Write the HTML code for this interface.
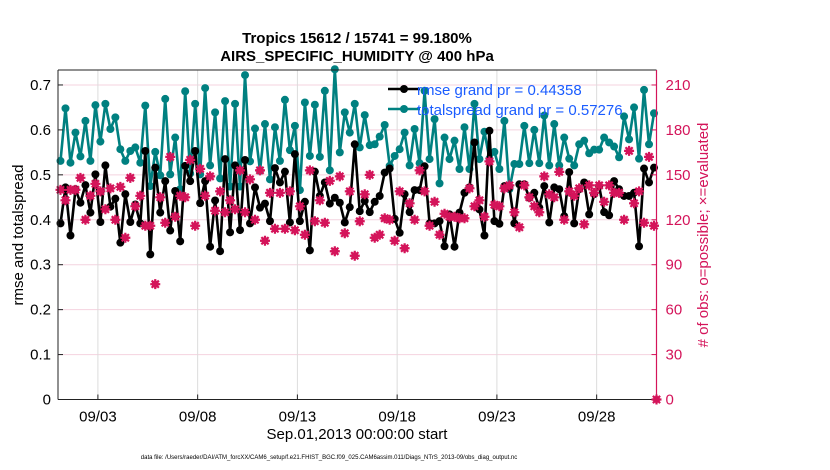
<!DOCTYPE html>
<html><head><meta charset="utf-8">
<style>
html,body{margin:0;padding:0;background:#fff;}
svg{display:block;font-family:"Liberation Sans",Arial,sans-serif;}
</style></head>
<body>
<svg id="chart" width="830" height="470" viewBox="0 0 830 470" xmlns="http://www.w3.org/2000/svg">
<rect x="0" y="0" width="830" height="470" fill="#fff"/>
<text x="357" y="43" font-size="15" font-weight="bold" text-anchor="middle">Tropics 15612 / 15741 = 99.180%</text>
<text x="357" y="61" font-size="15" font-weight="bold" text-anchor="middle">AIRS_SPECIFIC_HUMIDITY @ 400 hPa</text>
<g id="grid"></g>
<g id="marks"></g>
<g id="axes"></g>
<text transform="translate(23,235) rotate(-90)" font-size="15" text-anchor="middle">rmse and totalspread</text>
<text transform="translate(708,235) rotate(-90)" font-size="15" fill="#d4145a" text-anchor="middle"># of obs: o=possible; ×=evaluated</text>
<text x="357" y="439" font-size="15" text-anchor="middle">Sep.01,2013 00:00:00 start</text>
<text x="329" y="459" font-size="6" text-anchor="middle">data file: /Users/raeder/DAI/ATM_forcXX/CAM6_setup/f.e21.FHIST_BGC.f09_025.CAM6assim.011/Diags_NTrS_2013-09/obs_diag_output.nc</text>
<g id="legend"></g>
</svg>
<script>
const rmse = [0.392,0.472,0.365,0.468,0.438,0.477,0.416,0.501,0.395,0.521,0.429,0.447,0.349,0.457,0.395,0.434,0.392,0.553,0.323,0.516,
0.416,0.486,0.376,0.464,0.352,0.520,0.486,0.553,0.437,0.486,0.340,0.443,0.330,0.535,0.372,0.521,0.377,0.533,0.392,0.472,0.427,
0.436,0.397,0.515,0.483,0.507,0.394,0.546,0.397,0.440,0.332,0.507,0.453,0.483,0.436,0.449,0.438,0.394,0.428,0.568,
0.419,0.442,0.417,0.440,0.453,0.505,0.514,0.402,0.371,0.457,0.417,0.466,0.466,0.519,0.392,0.392,0.397,0.341,
0.412,0.340,0.416,0.460,0.472,0.572,0.423,0.365,0.598,0.397,0.391,0.475,0.472,0.392,0.479,0.479,0.449,0.460,0.427,0.475,0.394,0.472,0.468,0.408,0.506,0.392,0.468,0.483,0.412,0.457,0.475,0.417,0.410,0.486,0.468,0.453,0.453,0.460,0.341,0.514,0.483,0.516];
const spread = [0.531,0.648,0.527,0.594,0.541,0.620,0.531,0.655,0.574,0.658,0.602,0.628,0.557,0.531,0.553,0.561,0.527,0.654,0.475,0.551,
0.499,0.669,0.501,0.583,0.468,0.686,0.503,0.658,0.501,0.693,0.521,0.639,0.492,0.664,0.474,0.658,0.474,0.722,0.530,0.603,0.509,
0.613,0.490,0.606,0.531,0.667,0.555,0.609,0.466,0.661,0.542,0.656,0.540,0.687,0.510,0.735,0.550,0.639,0.594,0.658,
0.561,0.633,0.566,0.568,0.585,0.611,0.520,0.542,0.557,0.594,0.521,0.602,0.526,0.687,0.535,0.624,0.481,0.583,
0.535,0.576,0.513,0.606,0.513,0.658,0.535,0.596,0.536,0.551,0.513,0.620,0.468,0.524,0.524,0.609,0.526,0.600,0.526,0.632,0.521,0.613,0.521,0.583,0.536,0.521,0.568,0.576,0.548,0.556,0.556,0.583,0.572,0.563,0.539,0.630,0.579,0.650,0.536,0.689,0.568,0.637];
const nobs = [140,133,140,140,148,120,136,144,139,127,141,120,142,108,148,129,136,116,116,77,
135,118,162,122,136,135,160,116,154,136,149,126,139,125,133,127,153,125,147,120,153,
106,138,114,138,114,139,113,129,110,153,119,133,118,146,99,149,111,139,96,
119,137,150,108,110,121,120,106,139,101,131,120,153,139,116,132,110,124,
122,122,121,121,141,129,133,122,159,130,129,141,143,125,115,143,135,129,125,149,137,135,152,120,139,136,141,117,143,138,143,132,143,138,138,120,166,131,139,118,162,116];
const nobsFinal = 0;
const yTicks = [0,0.1,0.2,0.3,0.4,0.5,0.6,0.7];
const yTickLabels = ["0","0.1","0.2","0.3","0.4","0.5","0.6","0.7"];
const y2Ticks = [0,30,60,90,120,150,180,210];
const xTickDays = [2,7,12,17,22,27];
const xTickLabels = ["09/03","09/08","09/13","09/18","09/23","09/28"];
const rmseLabel = "rmse grand pr = 0.44358";
const spreadLabel = "totalspread grand pr = 0.57276";

const L=58, R=656.5, T=70, B=399.5, DAYS=30, YMAX=0.7333, Y2MAX=220;
const NS="http://www.w3.org/2000/svg";
const xs = d => L + d/DAYS*(R-L);
const ys = v => B - v/YMAX*(B-T);
const y2s = v => B - v/Y2MAX*(B-T);
const dayOf = i => (i*6+3)/24;
const RED="#d4145a", TEAL="#008080";
function mk(tag, attrs, parent){const e=document.createElementNS(NS,tag);for(const k in attrs)e.setAttribute(k,attrs[k]);parent.appendChild(e);return e;}
const grid=document.getElementById('grid'), marks=document.getElementById('marks'), axes=document.getElementById('axes'), legend=document.getElementById('legend');

yTicks.forEach((v,i)=>{ if(v>0){ const g=mk('line',{x1:L,x2:R,y1:ys(v),y2:ys(v),stroke:'#f4d3df','stroke-width':1},grid);
 }});
xTickDays.forEach(d=>{ const g=mk('line',{x1:xs(d),x2:xs(d),y1:T,y2:B,stroke:'#dcdcdc','stroke-width':1},grid);
 });

function series(vals, color, name){
  const pts=vals.map((v,i)=>xs(dayOf(i)).toFixed(1)+','+ys(v).toFixed(1)).join(' ');
  const pl=mk('polyline',{points:pts,fill:'none',stroke:color,'stroke-width':2.6,'stroke-linejoin':'round'},marks);
  
  
  vals.forEach((v,i)=>{ const c=mk('circle',{cx:xs(dayOf(i)),cy:ys(v),r:4,fill:color},marks);
    
    });
}
function star(x,y,name){
  const g=mk('g',{},marks);
  
  
  mk('path',{d:`M${x-5},${y}H${x+5}M${x},${y-5}V${y+5}M${x-3.6},${y-3.6}L${x+3.6},${y+3.6}M${x-3.6},${y+3.6}L${x+3.6},${y-3.6}`,stroke:RED,'stroke-width':2.2},g);
  mk('circle',{cx:x,cy:y,r:3.6,fill:RED},g);
}
series(spread, TEAL, 'totalspread');
series(rmse, '#000', 'rmse');
nobs.forEach((v,i)=>star(xs(dayOf(i)), y2s(v), 'obs-count-marker'));
star(xs(DAYS), y2s(nobsFinal), 'obs-count-marker');

let a=mk('line',{x1:L,x2:R,y1:T,y2:T,stroke:'#222','stroke-width':1},axes);  
a=mk('line',{x1:L,x2:R,y1:B,y2:B,stroke:'#222','stroke-width':1},axes);  
a=mk('line',{x1:L,x2:L,y1:T,y2:B,stroke:'#222','stroke-width':1},axes);  
a=mk('line',{x1:R,x2:R,y1:T,y2:B,stroke:RED,'stroke-width':1.2},axes);  
yTicks.forEach((v,i)=>{
  mk('line',{x1:L,x2:L+5,y1:ys(v),y2:ys(v),stroke:'#222'},axes);
  const t=mk('text',{x:L-7,y:ys(v)+5,'font-size':15,'text-anchor':'end'},axes); t.textContent=yTickLabels[i];
   
});
y2Ticks.forEach(v=>{
  mk('line',{x1:R-5,x2:R,y1:y2s(v),y2:y2s(v),stroke:RED},axes);
  const t=mk('text',{x:R+9,y:y2s(v)+5,'font-size':15,fill:RED},axes); t.textContent=String(v);
   
});
xTickDays.forEach((d,i)=>{
  mk('line',{x1:xs(d),x2:xs(d),y1:B-5,y2:B,stroke:'#222'},axes);
  const t=mk('text',{x:xs(d),y:B+22,'font-size':15,'text-anchor':'middle'},axes); t.textContent=xTickLabels[i];
   
});
[[rmseLabel,'#000',89,'legend-entry-rmse'],[spreadLabel,TEAL,109,'legend-entry-totalspread']].forEach(([lab,col,y,nm])=>{
  const g=mk('g',{},legend);
  
  
  mk('line',{x1:388,x2:420,y1:y,y2:y,stroke:col,'stroke-width':2.6},g);
  mk('circle',{cx:404,cy:y,r:4,fill:col},g);
  const t=mk('text',{x:417,y:y+6,'font-size':15,fill:'#1a5cff'},g); t.textContent=lab;
});
</script>
</body></html>
